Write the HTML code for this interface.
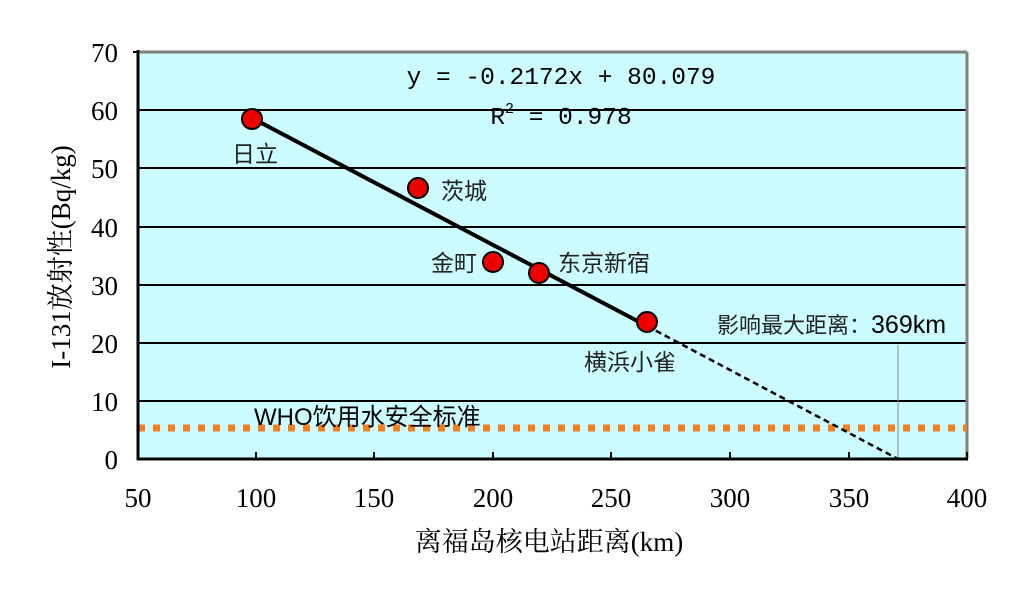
<!DOCTYPE html>
<html><head><meta charset="utf-8"><style>
html,body{margin:0;padding:0;background:#fff;width:1024px;height:600px;overflow:hidden}
</style></head><body>
<svg width="1024" height="600" xmlns="http://www.w3.org/2000/svg">
<rect x="138" y="52" width="829" height="407" fill="#ccfcff"/>
<g stroke="#000" stroke-width="2">
<line x1="138" y1="110" x2="967" y2="110"/>
<line x1="138" y1="168" x2="967" y2="168"/>
<line x1="138" y1="227" x2="967" y2="227"/>
<line x1="138" y1="285" x2="967" y2="285"/>
<line x1="138" y1="343" x2="967" y2="343"/>
<line x1="138" y1="401" x2="967" y2="401"/>
</g>
<line x1="138" y1="52" x2="967" y2="52" stroke="#808080" stroke-width="3"/>
<line x1="967" y1="52" x2="967" y2="459" stroke="#808080" stroke-width="3"/>
<line x1="898" y1="345" x2="898" y2="459" stroke="#888" stroke-width="1"/>
<line x1="138" y1="428" x2="967" y2="428" stroke="#f08020" stroke-width="7" stroke-dasharray="7,8"/>
<line x1="138" y1="50" x2="138" y2="460" stroke="#000" stroke-width="3"/>
<line x1="137" y1="459" x2="968" y2="459" stroke="#000" stroke-width="3"/>
<g stroke="#000" stroke-width="2">
<line x1="133" y1="52" x2="138" y2="52"/>
<line x1="256" y1="452" x2="256" y2="459"/><line x1="374" y1="452" x2="374" y2="459"/>
<line x1="493" y1="452" x2="493" y2="459"/><line x1="611" y1="452" x2="611" y2="459"/>
<line x1="730" y1="452" x2="730" y2="459"/><line x1="849" y1="452" x2="849" y2="459"/>
<line x1="967" y1="452" x2="967" y2="459"/>
</g>
<line x1="252" y1="118" x2="647" y2="326" stroke="#000" stroke-width="4"/>
<line x1="647" y1="326" x2="898" y2="459" stroke="#000" stroke-width="2.5" stroke-dasharray="6,4"/>
<g fill="#ee0000" stroke="#000" stroke-width="2">
<circle cx="252" cy="119" r="10"/><circle cx="418" cy="188" r="10"/>
<circle cx="493" cy="262" r="10"/><circle cx="539" cy="273" r="10"/>
<circle cx="647" cy="322" r="10"/>
</g>
<g font-family="Liberation Serif, 'Noto Serif CJK SC', serif" font-size="27" fill="#000" text-anchor="end">
<text x="118" y="62">70</text><text x="118" y="120">60</text><text x="118" y="178">50</text>
<text x="118" y="237">40</text><text x="118" y="295">30</text><text x="118" y="353">20</text>
<text x="118" y="411">10</text><text x="118" y="469">0</text>
</g>
<g font-family="Liberation Serif, 'Noto Serif CJK SC', serif" font-size="27" fill="#000" text-anchor="middle">
<text x="138" y="507">50</text><text x="256" y="507">100</text><text x="374" y="507">150</text>
<text x="493" y="507">200</text><text x="611" y="507">250</text><text x="730" y="507">300</text>
<text x="849" y="507">350</text><text x="967" y="507">400</text>
<text x="549" y="551" font-size="27">离福岛核电站距离(km)</text>
<text transform="translate(70,257) rotate(-90)" font-size="27">I-131放射性(Bq/kg)</text>
<text x="561" y="84" font-size="24.5" font-family="Liberation Mono, monospace">y = -0.2172x + 80.079</text>
<text x="561" y="124" font-size="24.5" font-family="Liberation Mono, monospace">R<tspan dy="-11" font-size="15">2</tspan><tspan dy="11"> = 0.978</tspan></text>
</g>
<g font-family="Liberation Sans, 'Noto Sans CJK SC', sans-serif" font-size="23" fill="#222">
<text x="232" y="162">日立</text>
<text x="441" y="199">茨城</text>
<text x="431" y="271">金町</text>
<text x="558" y="271">东京新宿</text>
<text x="584" y="370">横浜小雀</text>
<text x="717" y="333" font-size="22">影响最大距离：<tspan font-size="25" fill="#000">369km</tspan></text>
<text x="254" y="425" fill="#000" font-size="24">WHO饮用水安全标准</text>
</g>
</svg>
</body></html>
